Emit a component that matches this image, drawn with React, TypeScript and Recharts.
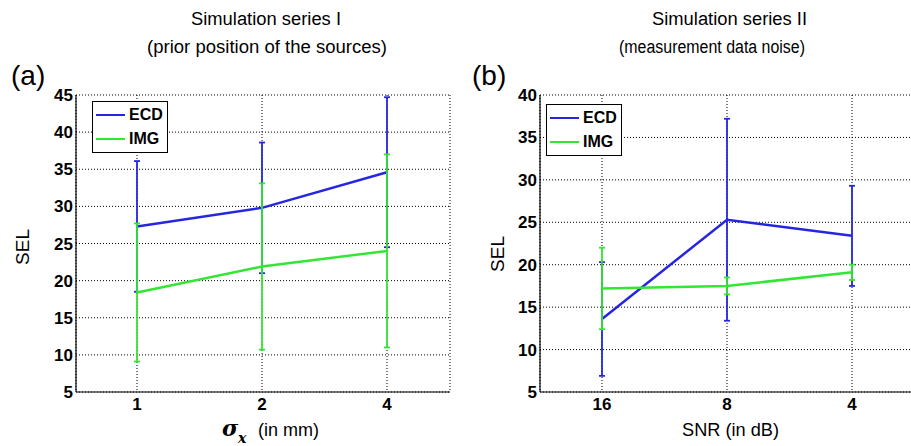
import React from 'react';
import { LineChart, Line, XAxis, YAxis, CartesianGrid, ErrorBar, Legend } from 'recharts';

const FONT = '"Liberation Sans", Arial, Helvetica, sans-serif';
const BLUE = '#2626e0';
const GREEN = '#33e633';

// (a) simulation series I - prior position of the sources
const sigmaLabels = ['1', '2', '4'];
const ecdSigma = [27.3, 29.8, 34.6];
const ecdSigmaErr = [8.8, 8.8, 10.1];
const imgSigma = [18.4, 21.9, 24.0];
const imgSigmaErr = [9.3, 11.2, 13.0];
const sigmaTicks = [5, 10, 15, 20, 25, 30, 35, 40, 45];

// (b) simulation series II - measurement data noise
const snrLabels = ['16', '8', '4'];
const ecdSnr = [13.6, 25.3, 23.4];
const ecdSnrErr = [6.7, 11.9, 5.9];
const imgSnr = [17.2, 17.5, 19.1];
const imgSnrErr = [4.8, 1.0, 0.9];
const snrTicks = [5, 10, 15, 20, 25, 30, 35, 40];

function LegendBox({ payload }: any) {
  const items = (payload || []).filter((p: any) => p.type !== 'none');
  return (
    <div
      style={{
        position: 'relative',
        width: 76,
        height: 52,
        boxSizing: 'border-box',
        border: '1.5px solid #000',
        background: '#fff',
        fontFamily: FONT,
        fontWeight: 'bold',
        fontSize: 16,
        color: '#000',
      }}
    >
      {items.map((p: any, i: number) => (
        <div key={p.value} style={{ position: 'absolute', left: 3, top: 4 + i * 24, height: 18, display: 'flex', alignItems: 'center' }}>
          <div style={{ width: 29, height: 2, background: p.color, marginRight: 4 }} />
          <span style={{ lineHeight: '18px' }}>{p.value}</span>
        </div>
      ))}
    </div>
  );
}

interface PanelProps {
  left: number;
  labels: string[];
  ecd: number[];
  ecdErr: number[];
  img: number[];
  imgErr: number[];
  ticks: number[];
  padding: { left: number; right: number };
  legendAt: { left: number; top: number };
}

function Panel({ left, labels, ecd, ecdErr, img, imgErr, ticks, padding, legendAt }: PanelProps) {
  const data = labels.map((cat, i) => ({
    cat,
    ECD: ecd[i],
    ecdErr: ecdErr[i],
    IMG: img[i],
    imgErr: imgErr[i],
  }));
  const tickStyle = { fill: '#000', fontSize: 17, fontWeight: 'bold', fontFamily: FONT };

  return (
    <div style={{ position: 'absolute', left, top: 0 }}>
      <LineChart width={460} height={446} data={data} margin={{ top: 95, right: 10, bottom: 24, left: 0 }}>
        <CartesianGrid stroke="#000" strokeDasharray="1 2" strokeWidth={1} />
        <XAxis
          dataKey="cat"
          padding={padding}
          tickLine={false}
          tickSize={3}
          tickMargin={3}
          height={30}
          axisLine={{ stroke: '#000', strokeWidth: 1.2 }}
          tick={tickStyle}
          interval={0}
        />
        <XAxis xAxisId="top" dataKey="cat" orientation="top" padding={padding} height={0} tick={false} tickLine={false} axisLine={{ stroke: '#000', strokeWidth: 1.2 }} />
        <YAxis
          type="number"
          domain={[ticks[0], ticks[ticks.length - 1]]}
          ticks={ticks}
          interval={0}
          width={76}
          tickLine={false}
          tickSize={2}
          tickMargin={1}
          axisLine={{ stroke: '#000', strokeWidth: 1.2 }}
          tick={tickStyle}
        />
        <YAxis yAxisId="right" orientation="right" width={0} tick={false} tickLine={false} axisLine={{ stroke: '#000', strokeWidth: 1.2 }} />
        <Legend
          content={<LegendBox />}
          layout="horizontal"
          verticalAlign="middle"
          wrapperStyle={{ left: legendAt.left, top: legendAt.top, width: 76, height: 52 }}
        />
        <Line type="linear" dataKey="ECD" name="ECD" stroke={BLUE} strokeWidth={2.5} dot={false} isAnimationActive={false}>
          <ErrorBar dataKey="ecdErr" direction="y" width={3} stroke={BLUE} strokeWidth={1.8} isAnimationActive={false} />
        </Line>
        <Line type="linear" dataKey="IMG" name="IMG" stroke={GREEN} strokeWidth={2.5} dot={false} isAnimationActive={false}>
          <ErrorBar dataKey="imgErr" direction="y" width={3} stroke={GREEN} strokeWidth={1.8} isAnimationActive={false} />
        </Line>
      </LineChart>
    </div>
  );
}

export default function App() {
  const txt = { fontFamily: FONT, fill: '#000' } as const;
  return (
    <div style={{ position: 'absolute', left: 0, top: 0, width: 911, height: 446, overflow: 'hidden', background: '#fff' }}>
      <Panel
        left={0}
        labels={sigmaLabels}
        ecd={ecdSigma}
        ecdErr={ecdSigmaErr}
        img={imgSigma}
        imgErr={imgSigmaErr}
        ticks={sigmaTicks}
        padding={{ left: 61, right: 63 }}
        legendAt={{ left: 92, top: 101 }}
      />
      <Panel
        left={464}
        labels={snrLabels}
        ecd={ecdSnr}
        ecdErr={ecdSnrErr}
        img={imgSnr}
        imgErr={imgSnrErr}
        ticks={snrTicks}
        padding={{ left: 62, right: 62 }}
        legendAt={{ left: 82, top: 104 }}
      />
      <svg width={911} height={446} style={{ position: 'absolute', left: 0, top: 0, pointerEvents: 'none' }}>
        <text {...txt} x={191} y={25} fontSize={18} textLength={150} lengthAdjust="spacingAndGlyphs">Simulation series I</text>
        <text {...txt} x={147} y={53} fontSize={18} textLength={240} lengthAdjust="spacingAndGlyphs">(prior position of the sources)</text>
        <text {...txt} x={652} y={25} fontSize={18} textLength={155} lengthAdjust="spacingAndGlyphs">Simulation series II</text>
        <text {...txt} x={619} y={53} fontSize={18} textLength={186} lengthAdjust="spacingAndGlyphs">(measurement data noise)</text>
        <text {...txt} x={11} y={85} fontSize={28}>(a)</text>
        <text {...txt} x={472} y={85} fontSize={28}>(b)</text>
        <text {...txt} x={0} y={0} fontSize={19} textAnchor="middle" transform="translate(29 247) rotate(-90)">SEL</text>
        <text {...txt} x={0} y={0} fontSize={19} textAnchor="middle" transform="translate(504 254) rotate(-90)">SEL</text>
        <text {...txt} x={222} y={436} fontSize={22} fontWeight="bold" fontStyle="italic" fontFamily="'DejaVu Serif', serif">σ</text>
        <text {...txt} x={238} y={443} fontSize={14} fontWeight="bold" fontStyle="italic" fontFamily="'DejaVu Serif', serif">x</text>
        <text {...txt} x={258} y={436} fontSize={18} textLength={61} lengthAdjust="spacingAndGlyphs">(in mm)</text>
        <text {...txt} x={682} y={436} fontSize={18} textLength={97} lengthAdjust="spacingAndGlyphs">SNR (in dB)</text>
      </svg>
    </div>
  );
}
